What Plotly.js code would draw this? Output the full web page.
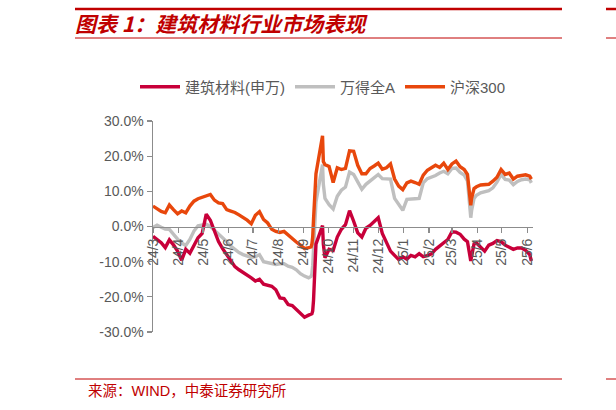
<!DOCTYPE html>
<html>
<head>
<meta charset="utf-8">
<script src="https://cdn.plot.ly/plotly-3.0.1.min.js"></script>
<style>
html,body{margin:0;padding:0;background:#fff;}
#chart{width:616px;height:410px;}
</style>
</head>
<body>
<div id="chart"></div>
<script>
const dates = [
'2024-03-15','2024-03-20','2024-03-25','2024-03-30','2024-04-04','2024-04-09','2024-04-14','2024-04-19','2024-04-24','2024-04-29',
'2024-05-04','2024-05-09','2024-05-14','2024-05-19','2024-05-24','2024-05-29','2024-06-03','2024-06-08','2024-06-13','2024-06-18',
'2024-06-23','2024-06-28','2024-07-03','2024-07-08','2024-07-13','2024-07-18','2024-07-23','2024-07-28','2024-08-02','2024-08-07',
'2024-08-12','2024-08-17','2024-08-22','2024-08-27','2024-09-01','2024-09-06','2024-09-11','2024-09-16','2024-09-21','2024-09-24',
'2024-09-25','2024-09-26','2024-09-27','2024-09-30','2024-10-08','2024-10-09','2024-10-11','2024-10-16','2024-10-21','2024-10-26',
'2024-10-31','2024-11-05','2024-11-10','2024-11-15','2024-11-20','2024-11-25','2024-11-30','2024-12-05','2024-12-10','2024-12-15',
'2024-12-20','2024-12-25','2024-12-30','2025-01-04','2025-01-09','2025-01-14','2025-01-19','2025-01-24','2025-01-29','2025-02-03',
'2025-02-08','2025-02-13','2025-02-18','2025-02-23','2025-02-28','2025-03-05','2025-03-10','2025-03-15','2025-03-20','2025-03-25',
'2025-03-30','2025-04-03','2025-04-07','2025-04-08','2025-04-11','2025-04-14','2025-04-19','2025-04-24','2025-04-29','2025-05-04',
'2025-05-09','2025-05-14','2025-05-19','2025-05-24','2025-05-29','2025-06-03','2025-06-08','2025-06-13','2025-06-18','2025-06-20'
];

// 建筑材料(申万), %
const buildingMaterials = [
-2.8,-3.8,-4.6,-6.0,-3.8,-5.2,-7.0,-9.6,-6.5,-7.6,
-5.3,-3.2,-2.0,3.5,1.8,-1.5,-4.3,-6.3,-8.0,-10.0,
-11.4,-12.3,-13.0,-13.8,-14.6,-15.5,-15.0,-16.4,-16.6,-17.0,
-18.0,-20.3,-20.5,-22.2,-22.5,-23.5,-24.8,-25.8,-25.2,-25.0,
-24.8,-24.0,-21.0,-5.0,0.3,-5.0,-8.9,-6.5,-6.8,-3.0,
-0.8,0.5,4.5,1.5,-1.8,-3.0,-0.5,0.3,1.5,2.5,
-2.0,-4.8,-7.0,-8.2,-9.4,-8.6,-9.3,-8.2,-8.6,-7.7,
-8.6,-8.3,-7.8,-6.5,-5.6,-4.8,-3.7,-1.5,-1.6,-2.2,
-3.6,-4.3,-9.8,-8.5,-5.0,-4.7,-6.0,-7.0,-5.3,-4.8,
-4.0,-4.3,-5.3,-5.8,-6.5,-6.1,-6.1,-6.8,-8.0,-9.8
];

// 万得全A, %
const windAllA = [
-0.3,0.4,-0.2,-0.7,-0.8,-2.4,-3.6,-4.7,-5.4,-3.7,
-1.3,0.2,0.3,0.6,0.0,-1.1,-1.9,-3.0,-4.3,-5.6,
-6.6,-7.4,-8.0,-8.4,-8.8,-8.6,-8.0,-10.0,-10.3,-10.6,
-10.8,-10.6,-10.6,-11.3,-11.6,-12.3,-13.4,-14.1,-14.6,-14.2,
-13.5,-11.0,-6.0,7.0,17.6,12.0,8.0,6.2,5.0,8.6,
10.3,11.2,15.5,14.8,12.7,10.6,12.0,13.0,14.0,14.8,
13.6,13.6,13.5,8.0,6.2,4.6,7.7,7.7,7.9,8.0,
12.4,13.6,14.0,14.5,15.2,15.7,15.0,16.5,16.6,15.4,
14.6,13.0,2.5,4.5,8.0,8.9,9.6,10.0,10.2,11.0,
12.6,14.8,13.4,13.2,11.9,12.8,13.3,13.5,13.3,12.4
];

// 沪深300, %
const csi300 = [
5.8,5.0,4.3,3.9,6.1,4.8,3.6,4.4,3.9,5.8,
7.2,7.9,8.3,8.5,9.1,7.5,6.7,6.5,4.8,4.4,
4.0,3.3,2.6,1.8,0.8,3.2,4.2,2.0,1.0,-0.8,
-1.4,-1.7,-1.4,-2.5,-3.3,-4.4,-5.3,-6.3,-6.0,-5.8,
-5.0,-3.0,2.0,15.0,25.8,18.5,17.6,17.1,12.5,16.7,
16.2,16.5,21.5,21.4,17.4,15.0,15.0,16.5,17.2,18.0,
16.3,16.7,17.8,13.5,11.5,10.5,12.4,12.9,12.5,12.0,
14.6,16.0,16.7,17.4,16.8,18.0,16.2,17.8,18.6,17.0,
16.2,14.8,6.0,8.0,10.8,11.3,11.8,11.9,12.0,12.9,
14.0,16.2,14.8,15.2,13.5,14.3,14.6,14.7,14.3,13.5
];

const seriesNames = ['建筑材料(申万)', '万得全A', '沪深300'];

const xTickVals = ['2024-03-15','2024-04-15','2024-05-15','2024-06-15','2024-07-15','2024-08-15','2024-09-15','2024-10-15',
  '2024-11-15','2024-12-15','2025-01-15','2025-02-15','2025-03-15','2025-04-15','2025-05-15','2025-06-15'];
const xTickText = ['24/3','24/4','24/5','24/6','24/7','24/8','24/9','24/10','24/11','24/12','25/1','25/2','25/3','25/4','25/5','25/6'];
const yTickVals = [-30,-20,-10,0,10,20,30];
const yTickText = ['-30.0%','-20.0%','-10.0%','0.0%','10.0%','20.0%','30.0%'];

const FONT = 'Arial, "Liberation Sans", "Noto Sans CJK SC", sans-serif';
const RED = '#C8003A', GRAY = '#BFBFBF', ORANGE = '#E8470C', DARKRED = '#C00000';

const traces = [
  {x: dates, y: windAllA, name: seriesNames[1], type: 'scatter', mode: 'lines', line: {color: GRAY, width: 3.4}, legendrank: 2},
  {x: dates, y: csi300, name: seriesNames[2], type: 'scatter', mode: 'lines', line: {color: ORANGE, width: 3.4}, legendrank: 3},
  {x: dates, y: buildingMaterials, name: seriesNames[0], type: 'scatter', mode: 'lines', line: {color: RED, width: 3.4}, legendrank: 1}
];

// paper-coordinate helpers (plot area: x 153..533, y 121..332)
const L = 153, R = 533, T = 121, B = 332;
const px = v => (v - L) / (R - L);
const py = v => (B - v) / (B - T);

const layout = {
  width: 616, height: 410,
  margin: {l: L, r: 616 - R, t: T, b: 410 - B, pad: 0},
  paper_bgcolor: '#fff', plot_bgcolor: 'rgba(0,0,0,0)',
  font: {family: FONT, color: '#595959', size: 14},
  showlegend: true,
  title: {
    text: '图表 1：建筑材料行业市场表现',
    x: 75/616, xref: 'container', xanchor: 'left',
    y: 1 - 25/410, yref: 'container', yanchor: 'middle',
    font: {family: '"Noto Sans CJK SC", sans-serif', size: 21, color: DARKRED, weight: 'bold', style: 'italic'}
  },
  legend: {
    orientation: 'h', x: px(135), xanchor: 'left', y: py(87), yanchor: 'middle',
    font: {family: FONT, size: 15, color: '#595959'}, bgcolor: 'rgba(0,0,0,0)',
    itemwidth: 40, traceorder: 'normal'
  },
  xaxis: {
    type: 'date', range: ['2024-03-15', '2025-06-22'],
    anchor: 'free', position: 0.5,
    showline: true, linecolor: '#8C8C8C', linewidth: 1.5,
    showgrid: false, zeroline: false,
    ticks: 'outside', ticklen: 5, tickwidth: 1.2, tickcolor: '#8C8C8C',
    tickmode: 'array', tickvals: xTickVals, ticktext: xTickText,
    tickangle: -90, tickfont: {family: FONT, size: 14, color: '#595959'}
  },
  yaxis: {
    range: [-30, 30],
    showline: true, linecolor: '#8C8C8C', linewidth: 1.5,
    showgrid: false, zeroline: false,
    ticks: 'outside', ticklen: 5, tickwidth: 1.2, tickcolor: '#8C8C8C',
    tickmode: 'array', tickvals: yTickVals, ticktext: yTickText,
    tickfont: {family: FONT, size: 14, color: '#595959'}
  },
  shapes: [
    {type: 'line', xref: 'paper', yref: 'paper', x0: px(75), x1: px(562), y0: py(9), y1: py(9), line: {color: DARKRED, width: 2.5}},
    {type: 'line', xref: 'paper', yref: 'paper', x0: px(606), x1: px(618), y0: py(9), y1: py(9), line: {color: DARKRED, width: 2.5}},
    {type: 'line', xref: 'paper', yref: 'paper', x0: px(75), x1: px(562), y0: py(38), y1: py(38), line: {color: DARKRED, width: 1}},
    {type: 'line', xref: 'paper', yref: 'paper', x0: px(606), x1: px(618), y0: py(38), y1: py(38), line: {color: DARKRED, width: 1}},
    {type: 'line', xref: 'paper', yref: 'paper', x0: px(75), x1: px(562), y0: py(379), y1: py(379), line: {color: DARKRED, width: 1}},
    {type: 'line', xref: 'paper', yref: 'paper', x0: px(606), x1: px(618), y0: py(379), y1: py(379), line: {color: DARKRED, width: 1}}
  ],
  annotations: [
    {text: '来源：WIND，中泰证券研究所', xref: 'paper', yref: 'paper', x: px(86), y: py(391),
     xanchor: 'left', yanchor: 'middle', showarrow: false,
     font: {family: FONT, size: 14.5, color: DARKRED}}
  ]
};

Plotly.newPlot('chart', traces, layout, {displayModeBar: false, staticPlot: true});
</script>
</body>
</html>
